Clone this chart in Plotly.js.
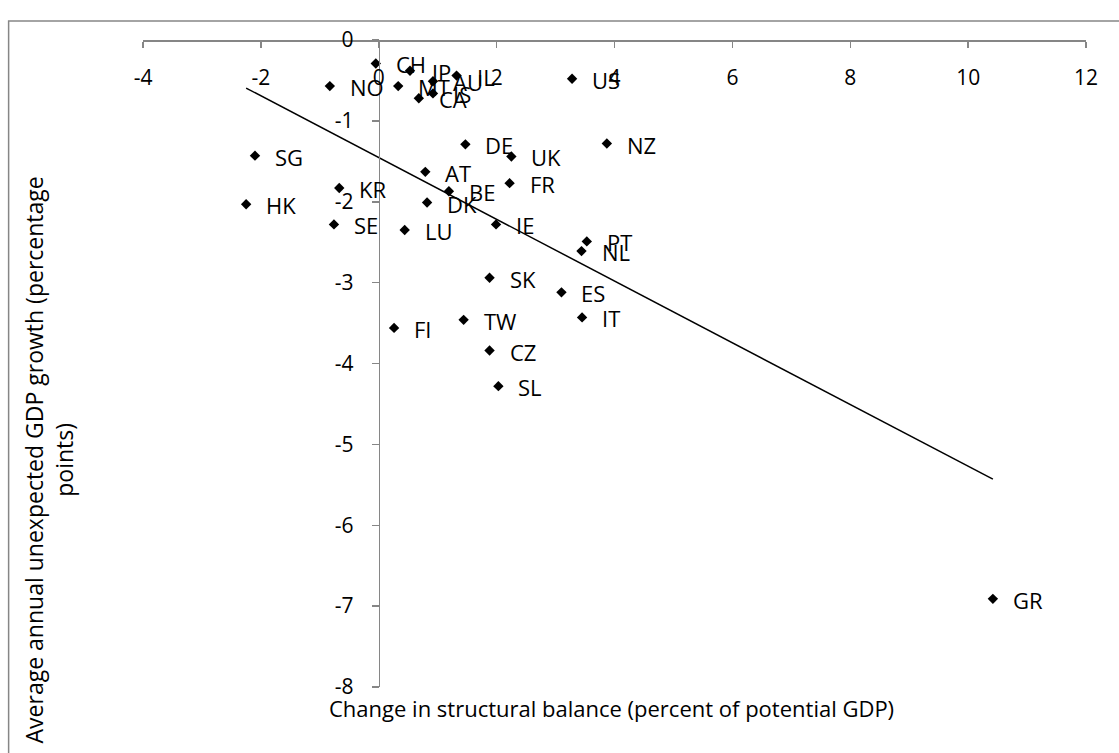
<!DOCTYPE html>
<html>
<head>
<meta charset="utf-8">
<script src="https://cdn.plot.ly/plotly-3.0.1.min.js"></script>
<style>html,body{margin:0;padding:0;background:#fff;}#chart{width:1119px;height:753px;}</style>
</head>
<body>
<div id="chart"></div>
<script>
// Country codes
const countries = ["CH","JP","NO","MT","AU","IL","IS","CA","US","SG","DE","UK","NZ","AT","KR","BE","FR","HK","DK","SE","LU","IE","PT","NL","SK","ES","TW","IT","FI","CZ","SL","GR"];
// Change in structural balance (percent of potential GDP)
const balanceChange = [-0.05,0.53,-0.83,0.33,0.92,1.32,0.92,0.68,3.28,-2.10,1.47,2.25,3.87,0.79,-0.67,1.19,2.22,-2.25,0.82,-0.76,0.44,1.99,3.53,3.44,1.88,3.10,1.44,3.45,0.26,1.88,2.03,10.42];
// Average annual unexpected GDP growth (percentage points)
const growthSurprise = [-0.29,-0.38,-0.57,-0.57,-0.51,-0.44,-0.66,-0.72,-0.48,-1.43,-1.29,-1.44,-1.28,-1.63,-1.83,-1.87,-1.77,-2.03,-2.01,-2.28,-2.35,-2.28,-2.49,-2.61,-2.94,-3.12,-3.46,-3.43,-3.56,-3.84,-4.28,-6.91];
// Tick labels
const xTickVals = [-4,-2,0,2,4,6,8,10,12];
const xTickText = ["-4","-2","0","2","4","6","8","10","12"];
const yTickVals = [-8,-7,-6,-5,-4,-3,-2,-1,0];
const yTickText = ["-8","-7","-6","-5","-4","-3","-2","-1","0"];

// Linear trendline (least squares) over the data range
const n = balanceChange.length;
const mx = balanceChange.reduce((a,b)=>a+b,0)/n;
const my = growthSurprise.reduce((a,b)=>a+b,0)/n;
let sxy = 0, sxx = 0;
for (let i=0;i<n;i++){ sxy += (balanceChange[i]-mx)*(growthSurprise[i]-my); sxx += (balanceChange[i]-mx)**2; }
const slope = sxy/sxx, intercept = my - slope*mx;
const xmin = Math.min(...balanceChange), xmax = Math.max(...balanceChange);
const trendX = [xmin, xmax];
const trendY = trendX.map(v => intercept + slope*v);

const FONT = "Open Sans";
const AX = "#868686";

const traces = [
  {x: trendX, y: trendY, mode: "lines", line: {color: "#000", width: 1.5}, hoverinfo: "skip", showlegend: false},
  {x: balanceChange, y: growthSurprise, mode: "markers", marker: {symbol: "diamond", size: 8, color: "#000"}, cliponaxis: false, showlegend: false}
];

const labelAnn = countries.map((c,i) => ({
  x: balanceChange[i], y: growthSurprise[i], xref: "x", yref: "y",
  text: c, showarrow: false, xanchor: "left", yanchor: "middle",
  xshift: 18, yshift: -1, font: {family: FONT, size: 22, color: "#000"}
}));

const layout = {
  width: 1119, height: 753,
  margin: {l: 143, r: 33, t: 40, b: 66, pad: 0},
  paper_bgcolor: "#fff", plot_bgcolor: "#fff",
  font: {family: FONT, size: 21, color: "#000"},
  showlegend: false,
  xaxis: {
    range: [-4, 12], tickvals: xTickVals, ticktext: xTickText,
    anchor: "free", position: 1, side: "bottom",
    showline: true, linecolor: AX, linewidth: 1.5,
    ticks: "outside", ticklen: 6, tickcolor: AX, tickwidth: 1.5,
    ticklabelstandoff: 12,
    showgrid: false, zeroline: false,
    tickfont: {family: FONT, size: 21, color: "#000"}
  },
  yaxis: {
    range: [-8, 0], tickvals: yTickVals, ticktext: yTickText,
    anchor: "free", position: 0.25, side: "left",
    showline: true, linecolor: AX, linewidth: 1.5,
    ticks: "outside", ticklen: 7, tickcolor: AX, tickwidth: 1.5,
    ticklabelstandoff: 14,
    showgrid: false, zeroline: false,
    tickfont: {family: FONT, size: 21, color: "#000"}
  },
  shapes: [
    {type: "rect", xref: "paper", yref: "paper", x0: -0.1425, x1: 1.3, y0: -0.4, y1: 1.0294,
     line: {color: AX, width: 1.5}, fillcolor: "rgba(0,0,0,0)", layer: "below"}
  ],
  annotations: labelAnn.concat([
    {xref: "paper", yref: "paper", x: 0.497, y: -0.0325, xanchor: "center", yanchor: "middle",
     text: "Change in structural balance (percent of potential GDP)", showarrow: false,
     font: {family: FONT, size: 22, color: "#000"}},
    {xref: "paper", yref: "paper", x: -0.0992, y: 0.3509, xanchor: "center", yanchor: "middle",
     textangle: -90, text: "Average annual unexpected GDP growth (percentage<br>points)", showarrow: false,
     font: {family: FONT, size: 23, color: "#000"}}
  ])
};

Plotly.newPlot("chart", traces, layout, {staticPlot: true, displayModeBar: false});
</script>
</body>
</html>
